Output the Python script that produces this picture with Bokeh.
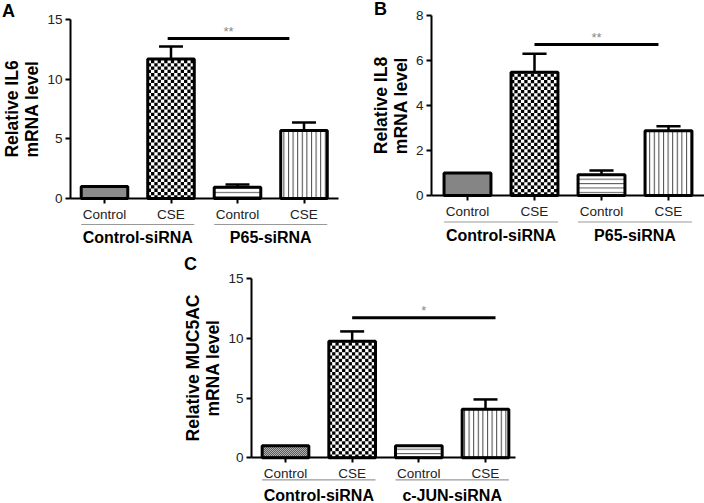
import math
from bokeh.plotting import figure
from bokeh.models import FixedTicker, Range1d, Spacer
from bokeh.layouts import row, column
from bokeh.core.properties import value
from bokeh.embed import file_html
from bokeh.resources import INLINE

# ---------------- data ----------------
bar_pos = [0, 1, 2, 3]
sub_labels = ["Control", "CSE", "Control", "CSE"]
groups_AB = ["Control-siRNA", "P65-siRNA"]
groups_C = ["Control-siRNA", "c-JUN-siRNA"]

il6_mean = [1.0, 11.7, 0.95, 5.7]
il6_err = [0.0, 1.04, 0.22, 0.67]
il8_mean = [1.0, 5.48, 0.92, 2.88]
il8_err = [0.0, 0.82, 0.19, 0.20]
muc_mean = [1.0, 9.77, 1.0, 4.07]
muc_err = [0.0, 0.82, 0.0, 0.82]

ylabels = ["Relative IL6\nmRNA level", "Relative IL8\nmRNA level",
           "Relative MUC5AC\nmRNA level"]
yticks_A = [0, 5, 10, 15]
yticks_B = [0, 2, 4, 6, 8]
yticks_C = [0, 5, 10, 15]

sig_x0 = [0.95, 1.0, 1.0]
sig_x1 = [2.78, 2.85, 3.15]
sig_y = [13.4, 6.71, 11.73]
sig_text = ["**", "**", "*"]

# ---------------- styles / layout (pixels) ----------------
FONT = "Liberation Sans"
BAR_W = 0.7
CAP = 0.18
# fill style per bar: checker cell size in px (None = use hatch pattern)
bar_checker = [1.0, 3.3, None, None]
bar_hatch = [None, None, "horizontal_line", "vertical_line"]
bar_hscale = [None, None, 4.4, 4.6]
bar_hcolor = [None, None, "#555555", "#444444"]


def checker_quads(xc, top, cell, ppx, ppy):
    """Cells of a checkerboard texture filling one bar (derived from bar data)."""
    xl, xr = xc - BAR_W / 2, xc + BAR_W / 2
    cw, ch = cell / ppx, cell / ppy
    ncol = int(math.ceil((xr - xl) / cw))
    nrow = int(math.ceil(top / ch))
    L, R, B, T = [], [], [], []
    for i in range(ncol):
        for j in range(nrow):
            if (i + j) % 2 == 0:
                l = xl + i * cw
                b = j * ch
                L.append(l)
                R.append(min(l + cw, xr))
                B.append(b)
                T.append(min(b + ch, top))
    return L, R, B, T


def make_panel(letter, letter_px, mean, err, ylabel, yticks, groups, si,
               fig_box, geom, axis_end, under_off, group_off):
    fx, fy, fw, fh = fig_box
    idx0, idx3, axis_left_px, y0_px, ytop_px = geom
    ppx = (idx3 - idx0) / 3.0
    ymax = yticks[-1]
    ppy = (y0_px - ytop_px) / ymax
    xs = (fx - idx0) / ppx
    ye = (y0_px - fy) / ppy
    x_axis_left = (axis_left_px - idx0) / ppx

    p = figure(frame_width=fw, frame_height=fh,
               x_range=Range1d(xs, xs + fw / ppx),
               y_range=Range1d(ye - fh / ppy, ye),
               min_border=0, min_border_left=0, min_border_right=0,
               min_border_top=0, min_border_bottom=0, title=None,
               output_backend="svg", toolbar_location=None,
               background_fill_color="white", border_fill_color="white")
    p.outline_line_color = None
    p.grid.visible = False

    p.xaxis.fixed_location = 0
    p.xaxis.bounds = (x_axis_left, axis_end)
    p.yaxis.fixed_location = x_axis_left
    p.yaxis.bounds = (0, ymax)
    p.xaxis.ticker = FixedTicker(ticks=bar_pos)
    p.xaxis.major_label_overrides = {x: s for x, s in zip(bar_pos, sub_labels)}
    p.yaxis.ticker = FixedTicker(ticks=yticks)
    for ax in (p.xaxis, p.yaxis):
        ax.axis_line_width = 2
        ax.axis_line_color = "black"
        ax.major_tick_line_width = 2
        ax.major_tick_line_color = "black"
        ax.major_tick_in = 0
        ax.major_tick_out = 5
        ax.minor_tick_line_color = None
        ax.major_label_text_font = FONT
        ax.major_label_text_font_size = "13.5px"
        ax.major_label_text_color = "#222222"
        ax.major_label_standoff = 3
    p.yaxis.axis_label = ylabel
    p.yaxis.axis_label_text_font = FONT
    p.yaxis.axis_label_text_font_style = "bold"
    p.yaxis.axis_label_text_font_size = "17.5px"
    p.yaxis.axis_label_text_color = "black"
    p.yaxis.axis_label_text_line_height = 1.0
    p.yaxis.axis_label_standoff = 2

    # error bars (upper only)
    ex = [x for x, e in zip(bar_pos, err) if e > 0]
    et = [m for m, e in zip(mean, err) if e > 0]
    eh = [m + e for m, e in zip(mean, err) if e > 0]
    p.segment(x0=ex, y0=et, x1=ex, y1=eh, line_color="black", line_width=2.5)
    p.segment(x0=[x - CAP for x in ex], y0=eh, x1=[x + CAP for x in ex], y1=eh,
              line_color="black", line_width=2.5)

    # bars
    for i in range(len(bar_pos)):
        if bar_checker[i] is not None:
            p.vbar(x=[bar_pos[i]], top=[mean[i]], bottom=0, width=BAR_W,
                   fill_color="white", line_color=None)
            L, R, B, T = checker_quads(bar_pos[i], mean[i], bar_checker[i],
                                       ppx, ppy)
            p.quad(left=L, right=R, bottom=B, top=T, fill_color="black",
                   line_color=None)
            p.vbar(x=[bar_pos[i]], top=[mean[i]], bottom=0, width=BAR_W,
                   fill_color=None, line_color="black", line_width=3)
        else:
            p.vbar(x=[bar_pos[i]], top=[mean[i]], bottom=0, width=BAR_W,
                   fill_color="white", line_color="black", line_width=3,
                   hatch_pattern=bar_hatch[i], hatch_scale=bar_hscale[i],
                   hatch_color=bar_hcolor[i], hatch_weight=1)

    # significance bar
    p.segment(x0=[sig_x0[si]], y0=[sig_y[si]], x1=[sig_x1[si]],
              y1=[sig_y[si]], line_color="black", line_width=3)
    p.text(x=[(sig_x0[si] + sig_x1[si]) / 2], y=[sig_y[si] + 7 / ppy],
           text=[sig_text[si]], text_align="center", text_baseline="middle",
           text_font=value(FONT), text_font_size=value("13px"),
           text_color="#888888")

    # group underlines and labels
    for gi, g in enumerate(groups):
        a, b = bar_pos[2 * gi], bar_pos[2 * gi + 1]
        p.segment(x0=[a - BAR_W / 2], x1=[b + BAR_W / 2],
                  y0=[-under_off / ppy], y1=[-under_off / ppy],
                  line_color="#999999", line_width=1.2)
        p.text(x=[(a + b) / 2], y=[-group_off / ppy], text=[g],
               text_align="center", text_baseline="middle",
               text_font=value(FONT), text_font_style="bold",
               text_font_size=value("16px"), text_color="black")

    # panel letter
    p.text(x=[(letter_px[0] - idx0) / ppx], y=[(y0_px - letter_px[1]) / ppy],
           text=[letter], text_align="center", text_baseline="middle",
           text_font=value(FONT), text_font_style="bold",
           text_font_size=value("18px"), text_color="black")
    return p


pA = make_panel("A", (8, 10), il6_mean, il6_err, ylabels[0], yticks_A,
                groups_AB, 0, (0, 0, 352, 248), (104, 303.5, 70, 198, 19),
                3.52, 26, 39)
pB = make_panel("B", (380, 8), il8_mean, il8_err, ylabels[1], yticks_B,
                groups_AB, 1, (352, 0, 352, 248), (467, 668, 431, 195, 15),
                3.6, 26.5, 40)
pC = make_panel("C", (190, 263), muc_mean, muc_err, ylabels[2], yticks_C,
                groups_C, 2, (176, 248, 352, 255), (285, 485, 251, 457.3, 278.3),
                3.45, 22, 38)

layout = column(row(pA, pB), row(Spacer(width=176, height=10), pC))

open("out.html", "w").write(file_html(layout, INLINE))
